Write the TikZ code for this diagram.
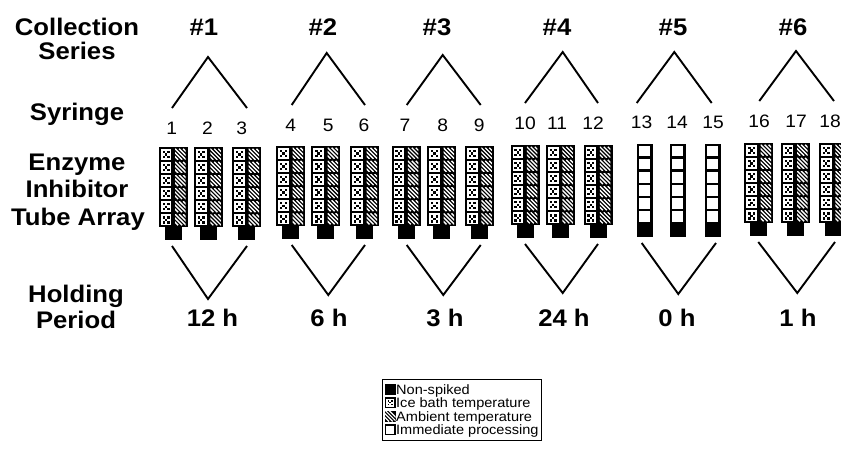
\documentclass[tikz,border=0pt]{standalone}
\usepackage{fontspec}
\setmainfont{Liberation Sans}[FakeStretch=1.07]
\begin{document}
% one cell of the inhibitor tube: white with a dotted (ice) pattern
\newcommand\icecell[2]{%
  \fill[white] ({#1},{#2}) rectangle ({#1+10.5},{#2+11});
  \foreach \u/\v in {3/3,7.5/3,5.25/5.5,3/8,7.5/8}
    \fill ({#1+\u-1.2},{#2+\v-1.2}) rectangle ++(2.4,2.4);
}
% one cell with white diagonal stripes on black (ambient)
\newcommand\hatchcell[2]{%
  \begin{scope}
    \clip ({#1},{#2}) rectangle ({#1+10.5},{#2+11});
    \foreach \k in {-8,-4,0,4,8}
      \draw[white,line width=1.4pt] ({#1+\k},{#2}) -- ++(11,11);
  \end{scope}
}
% spiked tube: six rows of ice / ambient cells and a black cap
\newcommand\fulltube[2]{%
  \fill ({#1-14.5},{#2}) rectangle ({#1+14.5},{#2+80});
  \fill ({#1-8.5},{#2+79}) rectangle ({#1+8.5},{#2+93});
  \foreach \row in {0,...,5}{%
    \icecell{#1-12.5}{#2+1.8+13.1*\row}
    \hatchcell{#1+1.8}{#2+1.8+13.1*\row}
  }
}
% immediate-processing tube: white cells and a black foot
\newcommand\whitetube[2]{%
  \fill ({#1-8},{#2}) rectangle ({#1+8},{#2+93});
  \foreach \row in {0,...,5}
    \fill[white] ({#1-5.5},{#2+2.2+13.1*\row}) rectangle ++(11,10.6);
}
\begin{tikzpicture}[x=1pt,y=-1pt,
  lbl/.style={font=\bfseries\fontsize{24}{26}\selectfont, anchor=base, inner sep=0pt},
  num/.style={font=\fontsize{18}{20}\selectfont, anchor=base, inner sep=0pt},
  leg/.style={font=\fontsize{13.6}{14}\selectfont, anchor=base west, inner sep=0pt},
  wire/.style={line width=1.9pt, line join=miter}]
\useasboundingbox (0,0) rectangle (841,467);
\clip (0,0) rectangle (841,467);

% row titles
\node[lbl] (colA) at (77,35) {Collection};
\node[lbl] (colB) at (77,59) {Series};
\node[lbl] (syr) at (77,120) {Syringe};
\node[lbl] (enzA) at (77,170) {Enzyme};
\node[lbl] (enzB) at (77,197) {Inhibitor};
\node[lbl] (enzC) at (78,225) {Tube Array};
\node[lbl] (holdA) at (76,302) {Holding};
\node[lbl] (holdB) at (76,328) {Period};

% series #1
\node[lbl] (ser1) at (204,35) {\#1};
\coordinate (ap1) at (208,57); \coordinate (la1) at (172,108); \coordinate (ra1) at (247,108);
\draw[wire] (la1) -- (ap1) -- (ra1);
\node[num] (n1) at (171.7,134) {1};
\node[num] (n2) at (207.5,134) {2};
\node[num] (n3) at (241.7,134) {3};
\fulltube{173.3}{147}\fulltube{208.5}{147}\fulltube{246.7}{147}
\coordinate (lb1) at (172,246); \coordinate (vb1) at (208,299); \coordinate (rb1) at (247,246);
\draw[wire] (lb1) -- (vb1) -- (rb1);
\node[lbl] (hp1) at (212.5,326) {12 h};

% series #2
\node[lbl] (ser2) at (323,35) {\#2};
\coordinate (ap2) at (326.7,53); \coordinate (la2) at (291.7,105); \coordinate (ra2) at (365,105);
\draw[wire] (la2) -- (ap2) -- (ra2);
\node[num] (n4) at (290.7,131) {4};
\node[num] (n5) at (328.3,131) {5};
\node[num] (n6) at (364,131) {6};
\fulltube{290.7}{146}\fulltube{325.8}{146}\fulltube{364.7}{146}
\coordinate (lb2) at (291.7,245); \coordinate (vb2) at (328.3,295); \coordinate (rb2) at (365,245);
\draw[wire] (lb2) -- (vb2) -- (rb2);
\node[lbl] (hp2) at (329,326) {6 h};

% series #3
\node[lbl] (ser3) at (437,35) {\#3};
\coordinate (ap3) at (442.7,55); \coordinate (la3) at (406.7,105); \coordinate (ra3) at (480.7,105);
\draw[wire] (la3) -- (ap3) -- (ra3);
\node[num] (n7) at (405,131) {7};
\node[num] (n8) at (442.7,131) {8};
\node[num] (n9) at (479.3,131) {9};
\fulltube{406}{146}\fulltube{441.7}{146}\fulltube{479.5}{146}
\coordinate (lb3) at (406.7,245); \coordinate (vb3) at (443.3,295); \coordinate (rb3) at (480.7,245);
\draw[wire] (lb3) -- (vb3) -- (rb3);
\node[lbl] (hp3) at (445,326) {3 h};

% series #4
\node[lbl] (ser4) at (557,35) {\#4};
\coordinate (ap4) at (562.7,52); \coordinate (la4) at (525,103); \coordinate (ra4) at (598,103);
\draw[wire] (la4) -- (ap4) -- (ra4);
\node[num] (n10) at (525,129) {10};
\node[num] (n11) at (557,129) {11};
\node[num] (n12) at (593,129) {12};
\fulltube{525}{145}\fulltube{560.5}{145}\fulltube{598}{145}
\coordinate (lb4) at (525,244); \coordinate (vb4) at (562.7,293); \coordinate (rb4) at (598,244);
\draw[wire] (lb4) -- (vb4) -- (rb4);
\node[lbl] (hp4) at (564,326) {24 h};

% series #5
\node[lbl] (ser5) at (673,35) {\#5};
\coordinate (ap5) at (674.3,52); \coordinate (la5) at (636.7,103); \coordinate (ra5) at (711.7,103);
\draw[wire] (la5) -- (ap5) -- (ra5);
\node[num] (n13) at (641.7,128) {13};
\node[num] (n14) at (677,128) {14};
\node[num] (n15) at (713,128) {15};
\whitetube{644.7}{143.5}\whitetube{677.8}{143.5}\whitetube{712.5}{143.5}
\coordinate (lb5) at (641.7,243); \coordinate (vb5) at (678.3,294); \coordinate (rb5) at (716,243);
\draw[wire] (lb5) -- (vb5) -- (rb5);
\node[lbl] (hp5) at (677,326) {0 h};

% series #6
\node[lbl] (ser6) at (793,35) {\#6};
\coordinate (ap6) at (796,51); \coordinate (la6) at (759.3,101); \coordinate (ra6) at (834,101);
\draw[wire] (la6) -- (ap6) -- (ra6);
\node[num] (n16) at (759,127) {16};
\node[num] (n17) at (796,127) {17};
\node[num] (n18) at (830,127) {18};
\fulltube{758.8}{143}\fulltube{795.3}{143}\fulltube{833.5}{143}
\coordinate (lb6) at (758.3,242); \coordinate (vb6) at (797.3,293); \coordinate (rb6) at (835,242);
\draw[wire] (lb6) -- (vb6) -- (rb6);
\node[lbl] (hp6) at (798,326) {1 h};

% legend
\node[draw, line width=1.3pt, anchor=north west, inner sep=0pt,
      minimum width=159pt, minimum height=61pt] (legbox) at (382,379) {};
\fill (384.5,383.5) rectangle ++(11,11);
\node[leg] (lg1) at (396,394) {Non-spiked};
\fill (384.5,397) rectangle ++(11,11);
\fill[white] (386,398.5) rectangle ++(8,8);
\foreach \u/\v in {387.5/400,391/400,389.3/401.7,387.5/403.5,391/403.5}
  \fill (\u,\v) rectangle ++(1.7,1.7);
\node[leg] (lg2) at (396,407.5) {Ice bath temperature};
\fill (384.5,410.5) rectangle ++(11,11);
\begin{scope}
  \clip (384.5,410.5) rectangle ++(11,11);
  \foreach \k in {-6.5,-2.8,0.9,4.6}
    \draw[white,line width=1.2pt] ({384.5+\k},410.5) -- ++(11,11);
\end{scope}
\node[leg] (lg3) at (396,421) {Ambient temperature};
\fill (384.5,424) rectangle ++(11,11);
\fill[white] (386,425.5) rectangle ++(8,8);
\node[leg] (lg4) at (396,434.5) {Immediate processing};
\end{tikzpicture}
\end{document}
